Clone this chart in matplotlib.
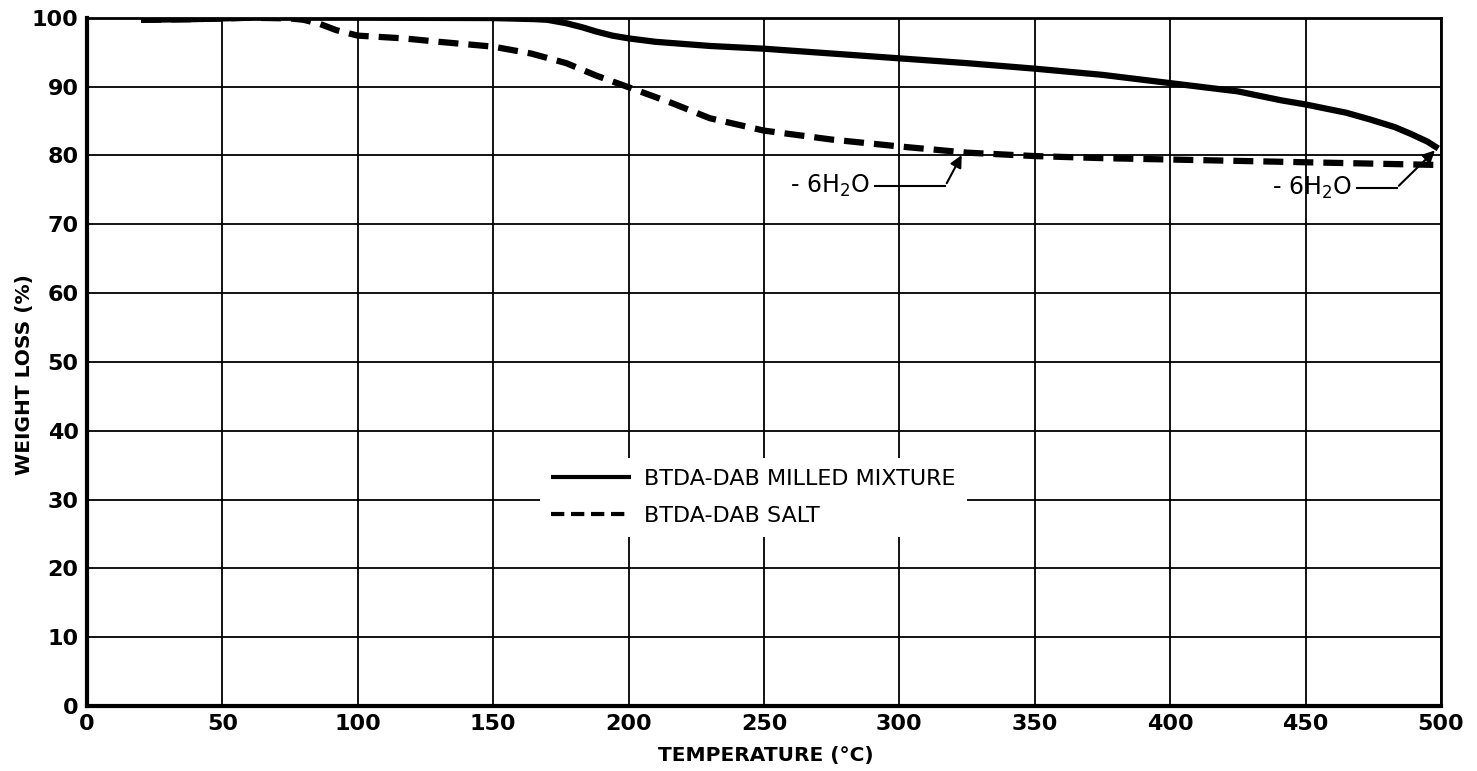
import matplotlib
matplotlib.use("Agg")
import matplotlib.pyplot as plt
import numpy as np

plt.rcParams["mathtext.fontset"] = "dejavusans"

# Data
milled_temp = [20, 40, 60, 100, 150, 165, 170, 177, 183, 188, 194, 200, 210, 230, 250, 275, 300, 325, 350, 375, 400, 425, 441, 450, 465, 474, 483, 489, 495, 499]
milled_wt = [99.7, 99.8, 100.0, 100.0, 99.95, 99.8, 99.7, 99.2, 98.6, 98.0, 97.4, 97.0, 96.5, 95.9, 95.5, 94.8, 94.1, 93.4, 92.6, 91.7, 90.5, 89.3, 88.0, 87.4, 86.2, 85.2, 84.1, 83.1, 82.0, 81.0]

salt_temp = [20, 40, 60, 75, 80, 86, 92, 100, 117, 130, 150, 164, 177, 188, 200, 216, 230, 250, 275, 300, 325, 350, 375, 400, 450, 500]
salt_wt = [99.7, 99.8, 100.0, 99.9, 99.7, 99.1, 98.2, 97.4, 97.0, 96.5, 95.8, 94.8, 93.4, 91.6, 89.9, 87.6, 85.4, 83.6, 82.3, 81.3, 80.4, 79.9, 79.6, 79.4, 79.0, 78.6]

series_labels = ["BTDA-DAB MILLED MIXTURE", "BTDA-DAB SALT"]
x_ticks = [0, 50, 100, 150, 200, 250, 300, 350, 400, 450, 500]
y_ticks = [0, 10, 20, 30, 40, 50, 60, 70, 80, 90, 100]
x_label = "TEMPERATURE (°C)"
y_label = "WEIGHT LOSS (%)"
annot_text = r"- 6H$_2$O"

fig = plt.figure(figsize=(14.77, 7.71), dpi=100)
ax = fig.add_axes([0.0589, 0.0843, 0.9167, 0.8927])

ax.set_xlim(0, 500)
ax.set_ylim(0, 100)
ax.set_xticks(x_ticks)
ax.set_yticks(y_ticks)
ax.set_xticklabels([str(t) for t in x_ticks])
ax.set_yticklabels([str(t) for t in y_ticks])
ax.tick_params(length=0, pad=6, labelsize=16)
for lab in ax.get_xticklabels() + ax.get_yticklabels():
    lab.set_fontweight("bold")

ax.grid(True, color="black", linewidth=1.3, zorder=0)
ax.set_axisbelow(True)
for side in ["left", "bottom"]:
    ax.spines[side].set_linewidth(3)
for side in ["top", "right"]:
    ax.spines[side].set_linewidth(2)

ax.plot(milled_temp, milled_wt, color="black", linewidth=4.5, solid_capstyle="butt",
        label=series_labels[0], zorder=3)
ax.plot(salt_temp, salt_wt, color="black", linewidth=4.5, linestyle=(0, (3.2, 1.6)),
        label=series_labels[1], zorder=3)

ax.set_xlabel(x_label, fontsize=14.5, fontweight="bold")
ax.xaxis.set_label_coords(0.5015, -0.058)
ax.set_ylabel(y_label, fontsize=14.5, fontweight="bold")
ax.yaxis.set_label_coords(-0.039, 0.4815)

leg = ax.legend(loc="center", bbox_to_anchor=(0.492, 0.303), frameon=True,
                fontsize=16, handlelength=3.6, handletextpad=0.6,
                borderpad=0.5, borderaxespad=0, labelspacing=0.75, fancybox=False)
leg.get_frame().set_facecolor("white")
leg.get_frame().set_edgecolor("none")
leg.get_frame().set_alpha(1.0)
for line in leg.get_lines():
    line.set_linewidth(3)
leg.set_zorder(5)

arrow_kw = dict(arrowstyle="-|>", color="black", lw=1.5, mutation_scale=18)
# left annotation
ax.text(289, 75.6, annot_text, fontsize=17, ha="right", va="center")
ax.plot([291, 317], [75.6, 75.6], color="black", lw=1.5, zorder=4)
ax.annotate("", xy=(323.5, 80.4), xytext=(317, 75.6), arrowprops=arrow_kw, zorder=4)
# right annotation
ax.text(467, 75.3, annot_text, fontsize=17, ha="right", va="center")
ax.plot([469, 483.7], [75.3, 75.3], color="black", lw=1.5, zorder=4)
ax.annotate("", xy=(498.5, 81.0), xytext=(483.7, 75.3), arrowprops=arrow_kw, zorder=4)

fig.savefig("out.png", dpi=100)
